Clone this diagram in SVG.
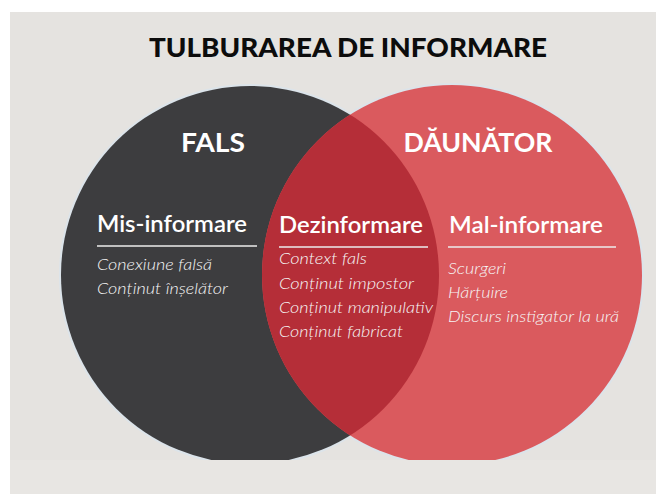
<svg xmlns="http://www.w3.org/2000/svg" width="656" height="494" viewBox="0 0 656 494">
  <defs>
    <clipPath id="cut">
      <rect x="0" y="0" width="656" height="460"/>
    </clipPath>
    <clipPath id="darkClip">
      <circle cx="250" cy="275" r="189"/>
    </clipPath>
  </defs>
  <style>
    .title { font-family: Lato, "Liberation Sans", sans-serif; font-weight: 900; font-size: 27px; fill: #0c0c0c; }
    .big { font-family: Lato, "Liberation Sans", sans-serif; font-weight: 700; font-size: 26px; fill: #ffffff; }
    .head { font-family: Lato, "Liberation Sans", sans-serif; font-weight: 600; font-size: 22px; fill: #ffffff; }
    .item { font-family: Lato, "Liberation Sans", sans-serif; font-weight: 300; font-style: italic; font-size: 15.5px; fill: #f6f6f6; }
    .rule { stroke: #ececec; stroke-width: 1.6; }
    .halo { fill: #dce4ea; }
  </style>

  <g id="background">
    <rect x="0" y="0" width="656" height="494" fill="#ffffff"/>
    <rect x="10" y="12" width="646" height="482" fill="#e5e3e0"/>
    <rect x="10" y="460" width="646" height="34" fill="#e8e6e3"/>
  </g>

  <g id="title">
    <text class="title" x="348" y="57" text-anchor="middle" textLength="398" lengthAdjust="spacingAndGlyphs">TULBURAREA DE INFORMARE</text>
  </g>

  <g clip-path="url(#cut)">
    <g id="halos">
      <circle class="halo" cx="250" cy="275" r="191"/>
      <circle class="halo" cx="452" cy="275" r="192"/>
    </g>
    <g id="node-fals">
      <circle cx="250" cy="275" r="189" fill="#3d3d3f"/>
    </g>
    <g id="node-daunator">
      <circle cx="452" cy="275" r="190" fill="#da5a5e"/>
    </g>
    <g id="node-intersectie">
      <circle cx="452" cy="275" r="190" fill="#b52e38" clip-path="url(#darkClip)"/>
    </g>
  </g>

  <g id="label-fals">
    <text class="big" x="213" y="152" text-anchor="middle" textLength="64" lengthAdjust="spacingAndGlyphs">FALS</text>
  </g>
  <g id="label-daunator">
    <text class="big" x="478" y="152" text-anchor="middle" textLength="149" lengthAdjust="spacingAndGlyphs">DĂUNĂTOR</text>
  </g>

  <g id="mis-informare">
    <text class="head" x="97" y="232" textLength="150" lengthAdjust="spacingAndGlyphs">Mis-informare</text>
    <line class="rule" x1="97" y1="246" x2="257" y2="246"/>
    <text class="item" x="97" y="270" textLength="115" lengthAdjust="spacingAndGlyphs">Conexiune falsă</text>
    <text class="item" x="97" y="294" textLength="131" lengthAdjust="spacingAndGlyphs">Conținut înșelător</text>
  </g>

  <g id="dezinformare">
    <text class="head" x="279" y="233" textLength="144" lengthAdjust="spacingAndGlyphs">Dezinformare</text>
    <line class="rule" x1="279" y1="247" x2="428" y2="247"/>
    <text class="item" x="279" y="264" textLength="88" lengthAdjust="spacingAndGlyphs">Context fals</text>
    <text class="item" x="279" y="289" textLength="135" lengthAdjust="spacingAndGlyphs">Conținut impostor</text>
    <text class="item" x="279" y="313" textLength="154" lengthAdjust="spacingAndGlyphs">Conținut manipulativ</text>
    <text class="item" x="279" y="337" textLength="124" lengthAdjust="spacingAndGlyphs">Conținut fabricat</text>
  </g>

  <g id="mal-informare">
    <text class="head" x="449" y="233" textLength="154" lengthAdjust="spacingAndGlyphs">Mal-informare</text>
    <line class="rule" x1="448" y1="247" x2="616" y2="247"/>
    <text class="item" x="448" y="274" textLength="58" lengthAdjust="spacingAndGlyphs">Scurgeri</text>
    <text class="item" x="448" y="298" textLength="60" lengthAdjust="spacingAndGlyphs">Hărțuire</text>
    <text class="item" x="448" y="322" textLength="171" lengthAdjust="spacingAndGlyphs">Discurs instigator la ură</text>
  </g>
</svg>
